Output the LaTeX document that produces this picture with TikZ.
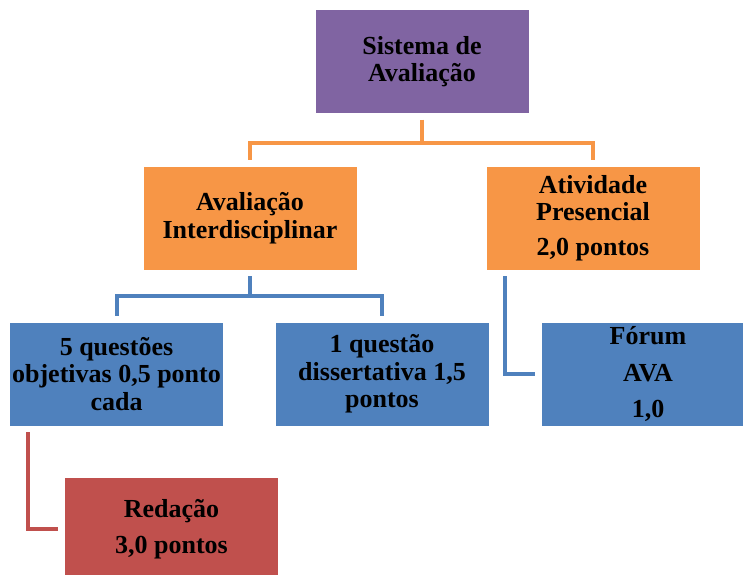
\documentclass[tikz,border=0pt]{standalone}
\usepackage{fontspec}
\setmainfont{Liberation Serif}
\definecolor{cpurple}{HTML}{8064A2}
\definecolor{corange}{HTML}{F79646}
\definecolor{cblue}{HTML}{4F81BD}
\definecolor{cred}{HTML}{C0504D}
\begin{document}
\begin{tikzpicture}[x=1pt,y=-1pt,
  box/.style={draw=white,line width=0.8pt,minimum width=214pt,minimum height=104pt,inner sep=0pt,
    align=center,font=\fontsize{26}{27.5}\selectfont\bfseries,text=black},
  conn/.style={line width=4pt,shorten <=6pt,shorten >=6pt}]
\useasboundingbox (0,0) rectangle (743,574);
\clip (0,0) rectangle (743,574);
\node[box,fill=cpurple] (top) at (422,61.5) {Sistema de\\Avaliação};
\node[box,fill=corange] (avi) at (250,218) {Avaliação\\Interdisciplinar};
\node[box,fill=corange] (atp) at (593,218) {Atividade\\Presencial\\[7pt]2,0 pontos};
\node[box,fill=cblue] (q5) at (116.5,374) {5 questões\\objetivas 0,5 ponto\\cada};
\node[box,fill=cblue] (q1) at (382,374) {1 questão\\dissertativa 1,5\\pontos};
\node[box,fill=cblue] (forum) at (648,374) {Fórum\\[9pt]AVA\\[9pt]1,0};
\node[box,fill=cred] (red) at (171.5,529) {Redação\\[9pt]3,0 pontos};
\draw[conn,corange] (top.south) -- ++(0,29) -| (avi.north);
\draw[conn,corange] (top.south) -- ++(0,29) -| (atp.north);
\draw[conn,cblue] (avi.south) -- ++(0,26) -| (q5.north);
\draw[conn,cblue] (avi.south) -- ++(0,26) -| (q1.north);
\draw[conn,cblue] ([xshift=19pt]atp.south west) |- (forum.west);
\draw[conn,cred] ([xshift=19pt]q5.south west) |- (red.west);
\end{tikzpicture}
\end{document}
